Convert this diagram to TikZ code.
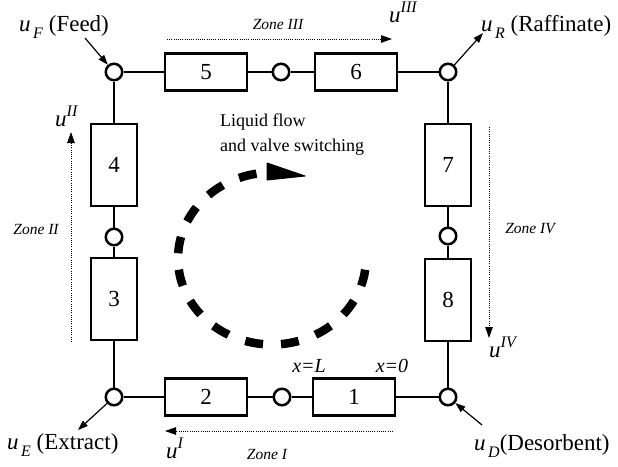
\documentclass[tikz,border=0pt]{standalone}
\usepackage{fontspec}
\setmainfont{Liberation Serif}
\usetikzlibrary{arrows.meta}
\newcommand{\usb}[1]{\textit{u}\kern2.5pt\raisebox{-7pt}{\fontsize{16}{16}\selectfont\textit{#1}}}
\newcommand{\usp}[1]{\textit{u}\textsuperscript{\textit{#1}}}
\begin{document}
\begin{tikzpicture}[x=1pt,y=-1pt,
  colbox/.style={draw, line width=2.5pt, fill=white, inner sep=0pt, font=\fontsize{23}{23}\selectfont},
  hbox/.style={colbox, minimum width=82pt, minimum height=37pt},
  vbox/.style={colbox, minimum width=46pt, minimum height=82pt},
  valve/.style={circle, draw, line width=2.5pt, fill=white, minimum size=16.5pt, inner sep=0pt},
  pipe/.style={line width=2.5pt},
  zonearrow/.style={line width=0.9pt, dash pattern=on 1pt off 1.2pt, -{Triangle[length=11pt,width=7.5pt]}},
  portarrow/.style={line width=1.2pt, -{Triangle[length=10pt,width=7pt]}},
  lab/.style={font=\fontsize{23}{23}\selectfont, inner sep=0pt},
  zonelab/.style={font=\fontsize{15.5}{16}\selectfont\itshape, inner sep=0pt},
  xlab/.style={font=\fontsize{20}{20}\selectfont\itshape, inner sep=0pt},
  note/.style={font=\fontsize{18}{18}\selectfont, inner sep=0pt, anchor=base west},
  flowdash/.style={line width=8.5pt}]
\useasboundingbox (0,0) rectangle (618,466);
% valves
\node[valve] (vTL) at (114,72) {};
\node[valve] (vTR) at (448,72) {};
\node[valve] (vBL) at (114,397) {};
\node[valve] (vBR) at (448,397) {};
\node[valve] (vT) at (281,72) {};
\node[valve] (vB) at (282,397) {};
\node[valve] (vL) at (114,237) {};
\node[valve] (vR) at (448,236) {};
% columns
\node[hbox] (b5) at (206,72) {5};
\node[hbox] (b6) at (356,72) {6};
\node[hbox] (b2) at (206,397) {2};
\node[hbox] (b1) at (354,397) {1};
\node[vbox] (b4) at (114,165) {4};
\node[vbox] (b3) at (114,299) {3};
\node[vbox] (b7) at (448,165) {7};
\node[vbox] (b8) at (448,300) {8};
% pipes
\draw[pipe] (vTL) -- (b5);
\draw[pipe] (b5) -- (vT);
\draw[pipe] (vT) -- (b6);
\draw[pipe] (b6) -- (vTR);
\draw[pipe] (vTR) -- (b7);
\draw[pipe] (b7) -- (vR);
\draw[pipe] (vR) -- (b8);
\draw[pipe] (b8) -- (vBR);
\draw[pipe] (vBR) -- (b1);
\draw[pipe] (b1) -- (vB);
\draw[pipe] (vB) -- (b2);
\draw[pipe] (b2) -- (vBL);
\draw[pipe] (vBL) -- (b3);
\draw[pipe] (b3) -- (vL);
\draw[pipe] (vL) -- (b4);
\draw[pipe] (b4) -- (vTL);
% port arrows
\coordinate (feedS) at (85,38);
\coordinate (rafE) at (483,33);
\coordinate (extE) at (78,430);
\coordinate (desS) at (482,425);
\draw[portarrow] (feedS) -- (vTL);
\draw[portarrow] (vTR) -- (rafE);
\draw[portarrow] (vBL) -- (extE);
\draw[portarrow] (desS) -- (vBR);
% port labels
\node[lab, anchor=base west] (lF) at (19,31) {\usb{F} (Feed)};
\node[lab, anchor=base west] (lR) at (481,31) {\usb{R} (Raffinate)};
\node[lab, anchor=base west] (lE) at (7,449) {\usb{E} (Extract)};
\node[lab, anchor=base west] (lD) at (474,450) {\usb{D}(Desorbent)};
% zone arrows
\coordinate (z3a) at (167,39); \coordinate (z3b) at (392,39);
\coordinate (z1a) at (393,431); \coordinate (z1b) at (165,431);
\coordinate (z2a) at (71,342); \coordinate (z2b) at (71,132);
\coordinate (z4a) at (489,127); \coordinate (z4b) at (489,338);
\draw[zonearrow] (z3a) -- (z3b);
\draw[zonearrow] (z1a) -- (z1b);
\draw[zonearrow] (z2a) -- (z2b);
\draw[zonearrow] (z4a) -- (z4b);
\node[zonelab] (zl3) at (278,24) {Zone III};
\node[zonelab] (zl1) at (267,454) {Zone I};
\node[zonelab] (zl2) at (36,229) {Zone II};
\node[zonelab] (zl4) at (530,229) {Zone IV};
\node[lab, anchor=base west] (u3) at (389,22) {\usp{III}};
\node[lab, anchor=base west] (u2) at (55,126) {\usp{II}};
\node[lab, anchor=base west] (u4) at (489,357) {\usp{IV}};
\node[lab, anchor=base west] (u1) at (166,458) {\usp{I}};
\node[xlab] (xL) at (309,366) {x=L};
\node[xlab] (x0) at (392,366) {x=0};
% flow note
\node[note] (n1) at (220,126) {Liquid flow};
\node[note] (n2) at (220,151) {and valve switching};
% circular dashed arrow
\foreach \a in {13,35,...,255} {
  \draw[flowdash] ({272+94*cos(\a-5.5)},{258.5+86*sin(\a-5.5)}) arc[start angle=\a-5.5, end angle=\a+5.5, x radius=94, y radius=86];
}
\fill[line join=round, line width=1pt, draw] (267,163) -- (305,176) -- (267,180) -- cycle;
\end{tikzpicture}
\end{document}
